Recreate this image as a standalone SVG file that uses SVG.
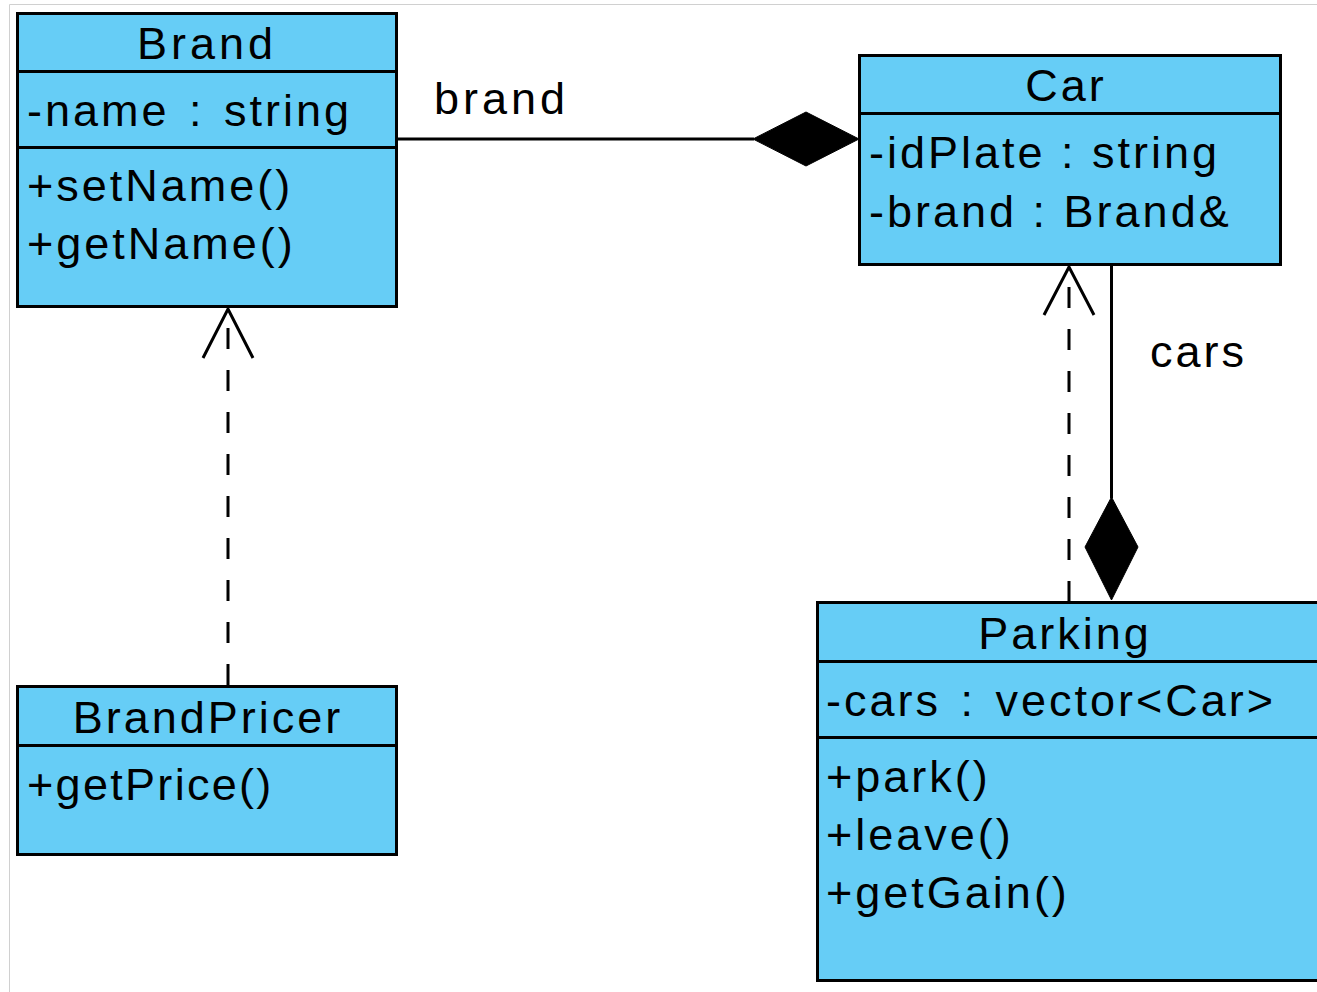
<svg xmlns="http://www.w3.org/2000/svg" width="1317" height="992" viewBox="0 0 1317 992">
<style>
  .box { fill: #66CDF6; stroke: #000; stroke-width: 3; }
  .div { stroke: #000; stroke-width: 3; }
  text { font-family: "Liberation Sans", Arial, sans-serif; font-size: 45px; fill: #000; letter-spacing: 3px; }
  .title { text-anchor: middle; }
  .edge { fill: none; stroke: #000; stroke-width: 3; }
  .dash { stroke-dasharray: 21 21; }
  .diamond { fill: #000; stroke: #000; stroke-width: 1; }
</style>
<rect x="0" y="0" width="1317" height="992" fill="#fff"/>
<path d="M9.5,992 V4.5 H1317" fill="none" stroke="#d0d0d0" stroke-width="1"/>

<g id="connectors">
  <g id="edge-brand">
    <line class="edge" x1="397" y1="139" x2="754" y2="139"/>
    <polygon class="diamond" points="753,139 806,112 859,139 806,166"/>
    <text x="434" y="114" style="letter-spacing:4px">brand</text>
  </g>
  <g id="edge-pricer-brand">
    <line class="edge dash" x1="228" y1="328" x2="228" y2="685"/>
    <polyline class="edge" points="203,358 228,309 253,358"/>
  </g>
  <g id="edge-parking-car-dep">
    <line class="edge dash" x1="1069" y1="287" x2="1069" y2="601"/>
    <polyline class="edge" points="1044,315 1069,267 1094,315"/>
  </g>
  <g id="edge-cars">
    <line class="edge" x1="1111.5" y1="266" x2="1111.5" y2="498"/>
    <polygon class="diamond" points="1111.5,497 1138,547 1111.5,600 1085,547"/>
    <text x="1150" y="367">cars</text>
  </g>
</g>

<g id="Brand">
  <rect class="box" x="17.5" y="13.5" width="379" height="293"/>
  <line class="div" x1="17.5" y1="71.5" x2="396.5" y2="71.5"/>
  <line class="div" x1="17.5" y1="147.5" x2="396.5" y2="147.5"/>
  <text class="title" x="207" y="59" style="letter-spacing:4px">Brand</text>
  <text x="27" y="126" style="word-spacing:4px">-name : string</text>
  <text x="27" y="201">+setName()</text>
  <text x="27" y="259">+getName()</text>
</g>

<g id="Car">
  <rect class="box" x="859.5" y="55.5" width="421" height="209"/>
  <line class="div" x1="859.5" y1="113.5" x2="1280.5" y2="113.5"/>
  <text class="title" x="1066" y="101">Car</text>
  <text x="869" y="168">-idPlate : string</text>
  <text x="869" y="227">-brand : Brand&amp;</text>
</g>

<g id="BrandPricer">
  <rect class="box" x="17.5" y="686.5" width="379" height="168"/>
  <line class="div" x1="17.5" y1="745.5" x2="396.5" y2="745.5"/>
  <text class="title" x="208" y="733">BrandPricer</text>
  <text x="27" y="800" style="letter-spacing:2.3px">+getPrice()</text>
</g>

<g id="Parking">
  <rect class="box" x="817.5" y="602.5" width="520" height="378"/>
  <line class="div" x1="817.5" y1="661.5" x2="1317" y2="661.5"/>
  <line class="div" x1="817.5" y1="737.5" x2="1317" y2="737.5"/>
  <text class="title" x="1065" y="649">Parking</text>
  <text x="826" y="716" style="word-spacing:4px">-cars : vector&lt;Car&gt;</text>
  <text x="826" y="792">+park()</text>
  <text x="826" y="850">+leave()</text>
  <text x="826" y="908">+getGain()</text>
</g>
</svg>
